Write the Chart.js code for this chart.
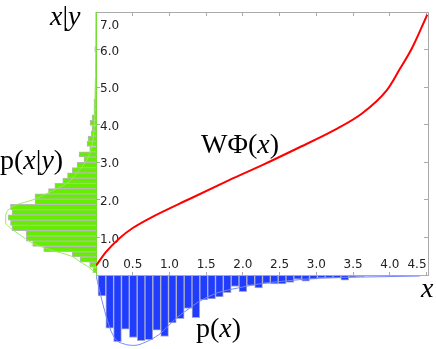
<!DOCTYPE html>
<html>
<head>
<meta charset="utf-8">
<script src="https://cdn.jsdelivr.net/npm/chart.js@4.4.0/dist/chart.umd.min.js"></script>
<style>
  html, body { margin: 0; padding: 0; background: #fff; }
  #wrap { position: relative; width: 436px; height: 349px; overflow: hidden; }
  canvas { position: absolute; }
  .lbl { position: absolute; font-family: 'Liberation Serif', serif; font-size: 28px; line-height: 1; color: #000; white-space: nowrap; }
  .lbl i { font-style: italic; }
</style>
</head>
<body>
<div id="wrap">
  <canvas id="cond" width="96" height="263" style="left:0;top:12px"></canvas>
  <canvas id="marg" width="332" height="74" style="left:96px;top:275px"></canvas>
  <canvas id="main" width="436" height="349" style="left:0;top:0"></canvas>
  <div class="lbl" style="left:50px;top:2px"><i>x</i>|<i>y</i></div>
  <div class="lbl" style="left:0;top:146px">p(<i>x</i>|<i>y</i>)</div>
  <div class="lbl" style="left:201px;top:130px">WΦ(<i>x</i>)</div>
  <div class="lbl" style="left:196px;top:314px">p(<i>x</i>)</div>
  <div class="lbl" style="left:421px;top:274px"><i>x</i></div>
</div>
<script>
'use strict';

// warping curve W*Phi(x)
var warpX = [0.0, 0.14, 0.32, 0.50, 0.73, 1.28, 1.82, 2.27, 2.73, 3.25, 3.63, 3.96, 4.13, 4.31, 4.51];
var warpY = [0.25, 0.62, 0.98, 1.25, 1.51, 2.03, 2.53, 2.93, 3.36, 3.86, 4.31, 4.92, 5.46, 6.07, 6.93];

// histogram of p(x) (hangs below the x axis)
var margBinCenters = [0.080, 0.187, 0.293, 0.400, 0.507, 0.614, 0.720, 0.827, 0.934, 1.040,
  1.147, 1.254, 1.360, 1.467, 1.574, 1.680, 1.787, 1.894, 2.000, 2.107,
  2.214, 2.320, 2.427, 2.534, 2.640, 2.747, 2.854, 2.960, 3.067, 3.174,
  3.280, 3.387, 3.494, 3.600, 3.707, 3.814, 3.920, 4.027, 4.134, 4.240, 4.347, 4.454];
var margBarValues = [0.20, 0.51, 0.64, 0.52, 0.60, 0.63, 0.62, 0.53, 0.59, 0.46,
  0.42, 0.32, 0.41, 0.24, 0.23, 0.21, 0.17, 0.11, 0.16, 0.10,
  0.125, 0.08, 0.085, 0.085, 0.07, 0.04, 0.06, 0.04, 0.03, 0.03,
  0.03, 0.05, 0.02, 0.015, 0.01, 0.01, 0.008, 0.008, 0.005, 0.005, 0.005, 0.004];
var margCurveX = [0, 0.04, 0.12, 0.19, 0.26, 0.40, 0.53, 0.67, 0.86, 1.10, 1.31, 1.39, 1.66, 1.93, 2.21, 2.57, 3.05, 3.6, 4.41];
var margCurveY = [0, 0.125, 0.35, 0.51, 0.61, 0.665, 0.675, 0.645, 0.57, 0.41, 0.30, 0.26, 0.17, 0.125, 0.087, 0.058, 0.03, 0.02, 0.01];

// histogram of p(x|y) (sticks out left of the y axis)
var condBinCenters = [0.13, 0.27, 0.41, 0.55, 0.69, 0.83, 0.97, 1.11, 1.25, 1.39,
  1.53, 1.67, 1.81, 1.95, 2.09, 2.23, 2.37, 2.51, 2.65, 2.79,
  2.93, 3.07, 3.21, 3.35, 3.49, 3.63, 3.77, 3.91, 4.05, 4.19,
  4.33, 4.47, 4.61, 4.75, 4.89, 5.03, 5.17, 5.31, 5.45, 5.59, 5.73, 5.87, 6.01];
var condBarValues = [0.02, 0.04, 0.10, 0.15, 0.33, 0.40, 0.44, 0.44, 0.53, 0.54,
  0.555, 0.53, 0.54, 0.385, 0.385, 0.30, 0.26, 0.21, 0.18, 0.15,
  0.12, 0.076, 0.107, 0.04, 0.057, 0.05, 0.03, 0.025, 0.038, 0.025,
  0.013, 0.013, 0.013, 0.006, 0.006, 0.004, 0.004, 0, 0.003, 0, 0, 0, 0.008];
var condCurveY = [0.05, 0.19, 0.35, 0.51, 0.67, 0.85, 1.07, 1.25, 1.39, 1.55, 1.73, 1.87, 2.0, 2.21, 2.45, 2.72, 3.07, 3.6, 4.67, 6.0, 7.0];
var condCurveX = [0.006, 0.04, 0.10, 0.16, 0.29, 0.40, 0.48, 0.54, 0.57, 0.57, 0.555, 0.50, 0.40, 0.29, 0.18, 0.12, 0.057, 0.019, 0.006, 0.002, 0.001];

var tickFont = { family: 'DejaVu Sans', size: 12 };

function toPoints(xs, ys) {
  var pts = [];
  for (var i = 0; i < xs.length; i++) {
    pts.push({ x: xs[i], y: ys[i] });
  }
  return pts;
}

// axes take no room, the padding alone places the plot box
function flat(scale) {
  if (scale.isHorizontal()) {
    scale.height = 0;
  } else {
    scale.width = 0;
  }
  scale.paddingLeft = 0;
  scale.paddingRight = 0;
  scale.paddingTop = 0;
  scale.paddingBottom = 0;
}

function xLabel(value) {
  // the end labels are pushed inside the box with spaces
  if (value === 0) return '     0';
  if (value === 4.5) return '4.5     ';
  return value.toFixed(1);
}

function yLabel(value) {
  if (value === 0) return null;
  if (value === 7) return ['', '7.0'];
  return value.toFixed(1);
}

var noPlugins = { legend: { display: false }, tooltip: { enabled: false } };

// main plot with the red curve
new Chart(document.getElementById('main'), {
  type: 'line',
  data: {
    datasets: [{
      data: toPoints(warpX, warpY),
      borderColor: '#ff0000',
      borderWidth: 2,
      pointRadius: 0,
      cubicInterpolationMode: 'monotone',
      fill: false
    }]
  },
  options: {
    responsive: false,
    animation: false,
    layout: { padding: { left: 96, top: 12, right: 8, bottom: 74 } },
    plugins: noPlugins,
    scales: {
      x: {
        // placed on y = 0 so its labels are not clipped to the axis box
        type: 'linear', position: { y: 0 }, min: 0, max: 4.52,
        afterFit: flat,
        border: { color: '#aaaaaa' },
        grid: { drawOnChartArea: false, tickLength: -4, color: '#aaaaaa' },
        ticks: { stepSize: 0.5, includeBounds: false, padding: -13, maxRotation: 0, autoSkip: false,
          font: tickFont, color: '#222', callback: xLabel }
      },
      xTop: {
        type: 'linear', axis: 'x', position: 'top', min: 0, max: 4.52,
        afterFit: flat,
        border: { color: '#aaaaaa' },
        grid: { drawOnChartArea: false, tickLength: -4, color: '#aaaaaa' },
        ticks: { stepSize: 0.5, includeBounds: false, display: false }
      },
      y: {
        type: 'linear', position: 'left', min: 0, max: 7,
        afterFit: flat,
        border: { color: '#77dd33' },
        grid: { drawOnChartArea: false, tickLength: -4, color: '#aaaaaa' },
        ticks: {
          stepSize: 1, mirror: true, padding: 4, labelOffset: 2, autoSkip: false, color: '#222', callback: yLabel,
          font: function (ctx) {
            if (ctx.tick && ctx.tick.value === 7) return { family: 'DejaVu Sans', size: 12, lineHeight: 2 };
            return tickFont;
          }
        }
      },
      yRight: {
        type: 'linear', axis: 'y', position: 'right', min: 0, max: 7,
        afterFit: flat,
        border: { color: '#aaaaaa' },
        grid: { drawOnChartArea: false, tickLength: -4, color: '#aaaaaa' },
        ticks: { stepSize: 1, display: false }
      }
    }
  }
});

// p(x) hanging down
new Chart(document.getElementById('marg'), {
  type: 'bar',
  data: {
    datasets: [{
      type: 'line',
      data: toPoints(margCurveX, margCurveY),
      borderColor: '#7485ff',
      borderWidth: 1,
      pointRadius: 0,
      cubicInterpolationMode: 'monotone',
      order: 0
    }, {
      type: 'bar',
      data: toPoints(margBinCenters, margBarValues),
      backgroundColor: '#1f3cff',
      borderColor: '#a9adc8',
      borderWidth: 1,
      barPercentage: 1,
      categoryPercentage: 1,
      order: 1
    }]
  },
  options: {
    responsive: false,
    animation: false,
    plugins: noPlugins,
    scales: {
      x: { type: 'linear', min: 0, max: 4.52, offset: false, display: false },
      y: { type: 'linear', min: 0, max: 0.71, reverse: true, display: false }
    }
  }
});

// p(x|y) pointing left
new Chart(document.getElementById('cond'), {
  type: 'bar',
  data: {
    datasets: [{
      type: 'line',
      indexAxis: 'y',
      data: toPoints(condCurveX, condCurveY),
      borderColor: '#9be860',
      borderWidth: 1,
      pointRadius: 0,
      cubicInterpolationMode: 'monotone',
      order: 0
    }, {
      type: 'bar',
      indexAxis: 'y',
      data: toPoints(condBarValues, condBinCenters),
      backgroundColor: '#66ee00',
      borderColor: '#b8b8b8',
      borderWidth: 1,
      barPercentage: 1,
      categoryPercentage: 1,
      order: 1
    }]
  },
  options: {
    indexAxis: 'y',
    responsive: false,
    animation: false,
    plugins: noPlugins,
    scales: {
      x: { type: 'linear', min: 0, max: 0.606, reverse: true, display: false },
      y: { type: 'linear', min: 0, max: 7, offset: false, display: false }
    }
  }
});
</script>
</body>
</html>
